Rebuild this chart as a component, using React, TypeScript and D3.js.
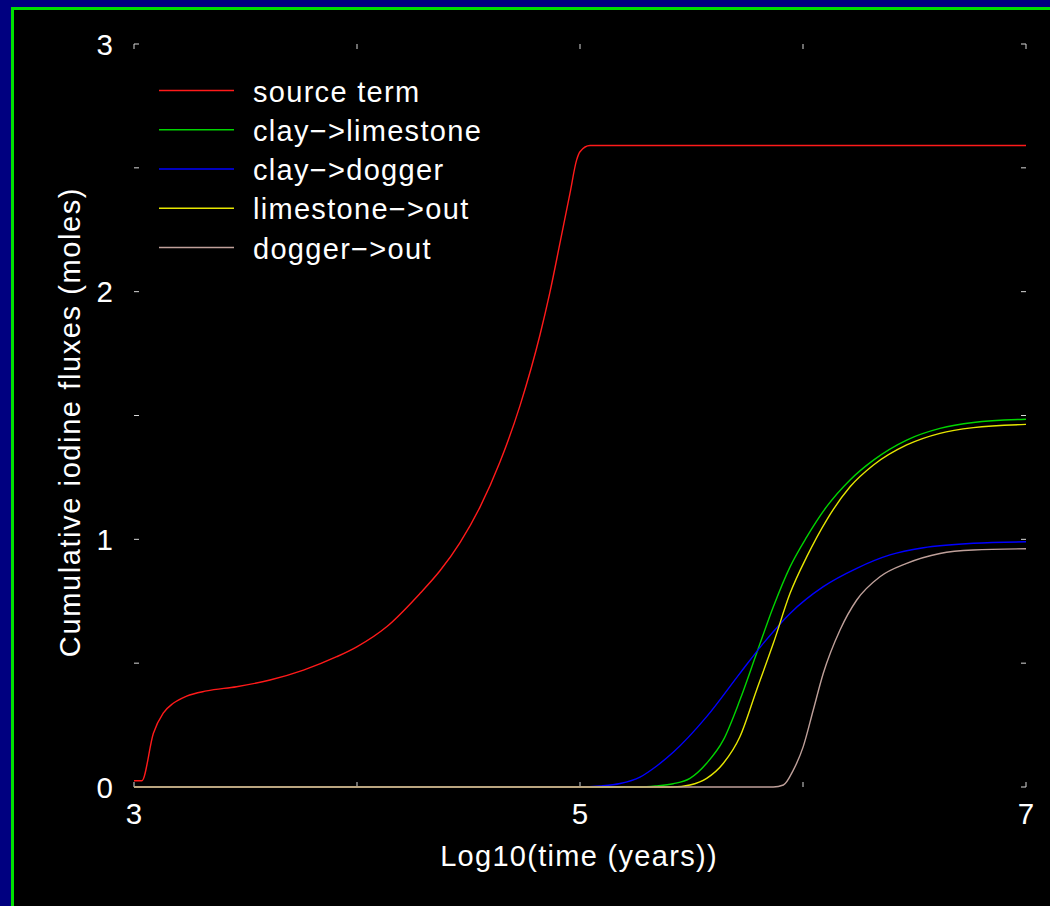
import React from "react";
import * as d3 from "d3";

// ---- data (log10 years, moles) ----
const sourceX = [3.0, 3.035, 3.087, 3.131, 3.176, 3.236, 3.326, 3.46, 3.61, 3.76, 3.909, 3.999, 4.133, 4.283, 4.372, 4.462, 4.552, 4.641, 4.731, 4.821, 4.865, 4.913, 4.955, 4.985, 5.0, 5.045, 5.5, 6.0, 6.5, 7.0];
const sourceY = [0.025, 0.025, 0.217, 0.298, 0.338, 0.367, 0.388, 0.405, 0.432, 0.472, 0.526, 0.566, 0.647, 0.782, 0.873, 0.987, 1.131, 1.312, 1.54, 1.827, 1.997, 2.209, 2.397, 2.532, 2.565, 2.59, 2.59, 2.59, 2.59, 2.59];

const clayLimeX = [3.0, 5.27, 5.34, 5.418, 5.493, 5.568, 5.643, 5.717, 5.792, 5.867, 5.942, 6.017, 6.106, 6.211, 6.316, 6.465, 6.614, 6.764, 7.0];
const clayLimeY = [0.0, 0.0, 0.004, 0.013, 0.035, 0.096, 0.19, 0.351, 0.54, 0.728, 0.889, 1.01, 1.132, 1.24, 1.32, 1.401, 1.448, 1.472, 1.485];

const clayDogX = [3.0, 5.0, 5.09, 5.18, 5.269, 5.344, 5.418, 5.568, 5.717, 5.822, 5.942, 6.091, 6.241, 6.39, 6.54, 6.764, 7.0];
const clayDogY = [0.0, 0.0, 0.004, 0.014, 0.04, 0.085, 0.14, 0.284, 0.459, 0.58, 0.701, 0.809, 0.883, 0.937, 0.966, 0.984, 0.99];

const limeOutX = [3.0, 5.418, 5.493, 5.568, 5.643, 5.717, 5.792, 5.867, 5.942, 6.017, 6.106, 6.211, 6.316, 6.465, 6.614, 6.764, 7.0];
const limeOutY = [0.0, 0.0, 0.008, 0.035, 0.096, 0.203, 0.392, 0.58, 0.782, 0.93, 1.078, 1.212, 1.3, 1.381, 1.428, 1.451, 1.464];

const dogOutX = [3.0, 5.867, 5.912, 5.957, 6.001, 6.046, 6.091, 6.166, 6.241, 6.345, 6.465, 6.614, 6.764, 7.0];
const dogOutY = [0.0, 0.0, 0.008, 0.069, 0.163, 0.311, 0.459, 0.634, 0.755, 0.849, 0.903, 0.943, 0.957, 0.962];

const seriesNames = ["source term", "clay\u2212>limestone", "clay\u2212>dogger", "limestone\u2212>out", "dogger\u2212>out"];
const seriesColors = ["#ff1a1a", "#00d400", "#0000ff", "#e6e600", "#bfa09a"];

const xTicks = [3, 4, 5, 6, 7];
const xTickLabels = ["3", "", "5", "", "7"];
const yTicks = [0, 0.5, 1, 1.5, 2, 2.5, 3];
const yTickLabels = ["0", "", "1", "", "2", "", "3"];

const xTitle = "Log10(time (years))";
const yTitle = "Cumulative iodine fluxes (moles)";

const FONT = "'Liberation Sans', Arial, Helvetica, sans-serif";

export default function App() {
  const W = 1050, H = 906;
  const left = 134, right = 1026, top = 44, bottom = 787;
  const x = d3.scaleLinear().domain([3, 7]).range([left, right]);
  const y = d3.scaleLinear().domain([0, 3]).range([bottom, top]);

  const raw = [
    [sourceX, sourceY],
    [clayLimeX, clayLimeY],
    [clayDogX, clayDogY],
    [limeOutX, limeOutY],
    [dogOutX, dogOutY],
  ];
  const series = raw.map(([xs, ys]) => xs.map((v, i) => [v, ys[i]] as [number, number]));
  const line = d3
    .line<[number, number]>()
    .x((d) => x(d[0]))
    .y((d) => y(d[1]))
    .curve(d3.curveMonotoneX);

  const tickLen = 5;
  const tickColor = "#d8d8d8";

  return (
    <svg width={W} height={H} style={{ position: "absolute", left: 0, top: 0, display: "block" }}>
      <rect x={0} y={0} width={W} height={H} fill="#000080" />
      <rect x={11} y={7} width={W} height={H} fill="#00e000" />
      <rect x={14} y={10} width={W} height={H} fill="#000000" />

      {/* ticks */}
      {xTicks.map((t, i) => (
        <g key={"xt" + i}>
          <line x1={x(t)} x2={x(t)} y1={bottom} y2={bottom - tickLen} stroke={tickColor} strokeWidth={1} />
          <line x1={x(t)} x2={x(t)} y1={top} y2={top + tickLen} stroke={tickColor} strokeWidth={1} />
          {xTickLabels[i] && (
            <text x={x(t)} y={824} fill="#fff" fontFamily={FONT} fontSize={29.5} textAnchor="middle">
              {xTickLabels[i]}
            </text>
          )}
        </g>
      ))}
      {yTicks.map((t, i) => (
        <g key={"yt" + i}>
          <line x1={left} x2={left + tickLen} y1={y(t)} y2={y(t)} stroke={tickColor} strokeWidth={1} />
          <line x1={right} x2={right - tickLen} y1={y(t)} y2={y(t)} stroke={tickColor} strokeWidth={1} />
          {yTickLabels[i] && (
            <text x={113} y={y(t) + 10.5} fill="#fff" fontFamily={FONT} fontSize={29.5} textAnchor="end">
              {yTickLabels[i]}
            </text>
          )}
        </g>
      ))}

      {/* curves */}
      {series.map((s, i) => (
        <path
          key={"s" + i}
          d={line(s) || ""}
          fill="none"
          stroke={seriesColors[i]}
          strokeWidth={1.4}
        />
      ))}

      {/* legend */}
      {seriesNames.map((n, i) => {
        const ly = 90.5 + i * 39.25;
        return (
          <g key={"lg" + i}>
            <line x1={159} x2={234} y1={ly} y2={ly} stroke={seriesColors[i]} strokeWidth={1.4} />
            <text x={253} y={ly + 11} fill="#fff" fontFamily={FONT} fontSize={29} letterSpacing={1.3}>
              {n}
            </text>
          </g>
        );
      })}

      {/* titles */}
      <text x={579} y={866} fill="#fff" fontFamily={FONT} fontSize={29} letterSpacing={1.3} textAnchor="middle">
        {xTitle}
      </text>
      <text
        transform={`translate(80,422) rotate(-90)`}
        fill="#fff"
        fontFamily={FONT}
        fontSize={29}
        letterSpacing={1.6}
        textAnchor="middle"
      >
        {yTitle}
      </text>
    </svg>
  );
}
